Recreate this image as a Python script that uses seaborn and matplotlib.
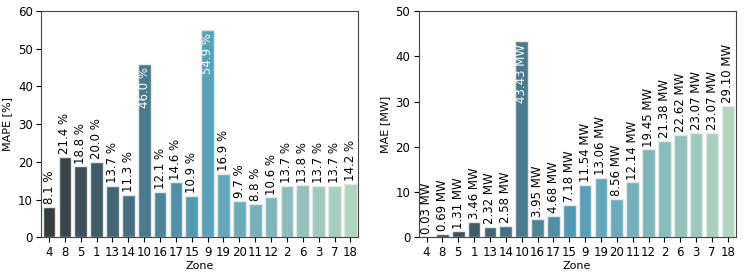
import matplotlib
matplotlib.use("Agg")
import matplotlib.pyplot as plt
import seaborn as sns
import pandas as pd

zones = ["4", "8", "5", "1", "13", "14", "10", "16", "17", "15", "9", "19", "20", "11", "12", "2", "6", "3", "7", "18"]
mape = [8.1, 21.4, 18.8, 20.0, 13.7, 11.3, 46.0, 12.1, 14.6, 10.9, 54.9, 16.9, 9.7, 8.8, 10.6, 13.7, 13.8, 13.7, 13.7, 14.2]
mae = [0.03, 0.69, 1.31, 3.46, 2.32, 2.58, 43.43, 3.95, 4.68, 7.18, 11.54, 13.06, 8.56, 12.14, 19.45, 21.38, 22.62, 23.07, 23.07, 29.10]

df = pd.DataFrame({"Zone": zones, "MAPE": mape, "MAE": mae})
pal = sns.color_palette("GnBu_d", len(zones))[::-1]

fig, axes = plt.subplots(1, 2, figsize=(7.47, 2.76), dpi=100)

def draw(ax, col, ylab, ymax, fmt, thresh):
    sns.barplot(data=df, x="Zone", y=col, hue="Zone", order=zones, hue_order=zones,
                palette=pal, legend=False, ax=ax, edgecolor="#e6e6e6", linewidth=1.0)
    ax.set_ylim(0, ymax)
    ax.set_ylabel(ylab, fontsize=8)
    ax.set_xlabel("Zone", fontsize=8, labelpad=2)
    ax.tick_params(labelsize=8.5, pad=2.5)
    for s in ax.spines.values():
        s.set_color("#444444")
    for p, v in zip(sorted(ax.patches, key=lambda q: q.get_x()), df[col]):
        x = p.get_x() + p.get_width() / 2
        h = p.get_height()
        if h > thresh:
            ax.annotate(fmt.format(v), (x, h), xytext=(0, -2), textcoords="offset points",
                        rotation=90, ha="center", va="top", color="white", fontsize=8.5)
        else:
            ax.annotate(fmt.format(v), (x, h), xytext=(0, 2), textcoords="offset points",
                        rotation=90, ha="center", va="bottom", color="black", fontsize=8.5)

draw(axes[0], "MAPE", "MAPE [%]", 60, "{:.1f} %", 40)
draw(axes[1], "MAE", "MAE [MW]", 50, "{:.2f} MW", 35)

plt.subplots_adjust(left=0.055, right=0.985, top=0.96, bottom=0.14, wspace=0.19)
fig.savefig("out.png", dpi=100)
